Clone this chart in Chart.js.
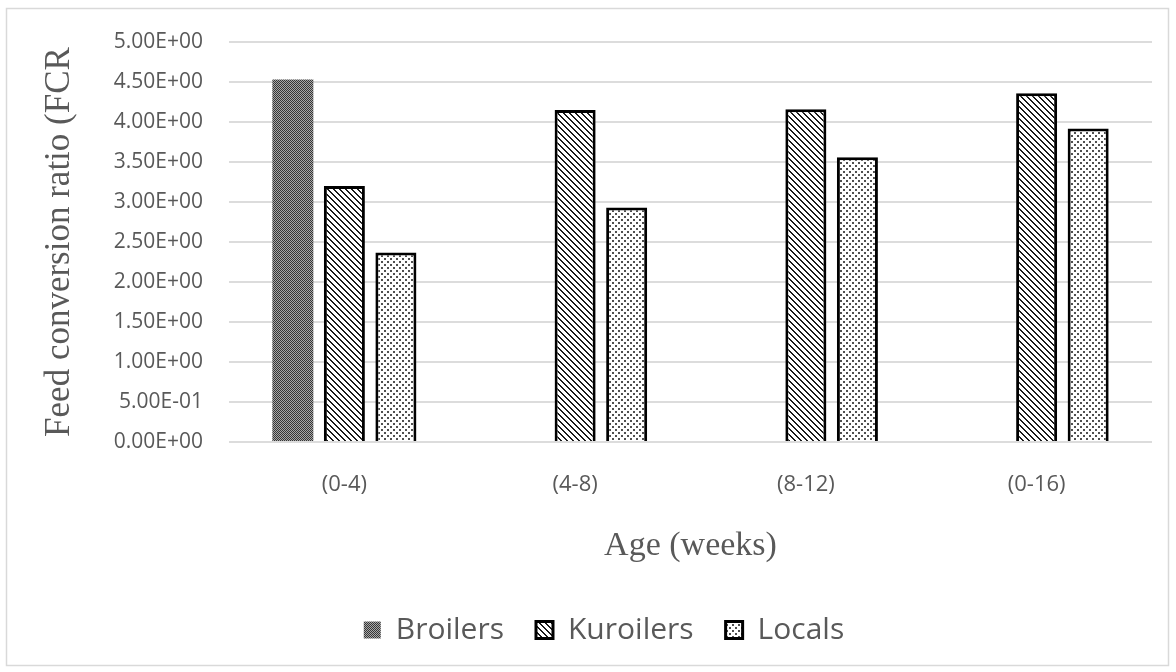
<!DOCTYPE html>
<html>
<head>
<meta charset="utf-8">
<title>Feed conversion ratio by age</title>
<script src="https://cdn.jsdelivr.net/npm/chart.js@4"></script>
<style>
  html, body { margin: 0; padding: 0; background: #ffffff; }
  #wrap { width: 1176px; height: 672px; }
</style>
</head>
<body>
<div id="wrap"><canvas id="fcr" width="1176" height="672"></canvas></div>
<script>
// Age groups (weeks) and feed conversion ratio per bird type
const ageGroups = ['(0-4)', '(4-8)', '(8-12)', '(0-16)'];
const broilers  = [4.53, null, null, null];
const kuroilers = [3.20, 4.15, 4.16, 4.36];
const locals    = [2.37, 2.93, 3.56, 3.92];
const seriesNames = ['Broilers', 'Kuroilers', 'Locals'];

const textGray = '#595959';

// Small tiled fills that mimic monochrome print hatching
function makePattern(size, paint) {
  const c = document.createElement('canvas');
  c.width = size; c.height = size;
  const g = c.getContext('2d');
  paint(g, size);
  return g.createPattern(c, 'repeat');
}
const ctx = document.getElementById('fcr').getContext('2d');

// dense dark checker
const checkerFill = makePattern(2, (g) => {
  g.fillStyle = '#a8a8a8'; g.fillRect(0, 0, 2, 2);
  g.fillStyle = '#363636'; g.fillRect(0, 0, 1, 1); g.fillRect(1, 1, 1, 1);
});
// downward diagonal stripes
const stripeFill = makePattern(6, (g, s) => {
  g.fillStyle = '#ffffff'; g.fillRect(0, 0, s, s);
  g.fillStyle = '#1a1a1a';
  for (let i = 0; i < s; i++) {
    g.fillRect(i, i, 1, 1);
    g.fillRect((i + 1) % s, i, 1, 1);
  }
});
// sparse staggered dots
const dotFill = makePattern(6, (g, s) => {
  g.fillStyle = '#ffffff'; g.fillRect(0, 0, s, s);
  g.fillStyle = '#505050';
  g.fillRect(0, 0, 2, 2);
  g.fillRect(3, 3, 2, 2);
});

// Scientific-notation labels with a two-digit exponent, e.g. 5.00E-01
function sciLabel(v) {
  if (Math.abs(v) < 1e-12) return '0.00E+00';
  const e = Math.floor(Math.log10(Math.abs(v)) + 1e-9);
  const m = v / Math.pow(10, e);
  return m.toFixed(2) + 'E' + (e < 0 ? '-' : '+') + String(Math.abs(e)).padStart(2, '0');
}

// Thin grey frame around the whole chart
const frame = {
  id: 'frame',
  beforeDraw(chart) {
    const c = chart.ctx;
    c.save();
    c.fillStyle = '#ffffff';
    c.fillRect(0, 0, chart.width, chart.height);
    c.strokeStyle = '#d9d9d9';
    c.lineWidth = 1.5;
    c.strokeRect(6.5, 8.5, chart.width - 14, chart.height - 15);
    c.restore();
  }
};

// Nudge the legend row a little to the right of the canvas centre
const legendNudge = {
  id: 'legendNudge',
  afterLayout(chart) {
    if (chart.legend) {
      chart.legend.left += 18;
      chart.legend.right += 18;
    }
  }
};

new Chart(ctx, {
  type: 'bar',
  data: {
    labels: ageGroups,
    datasets: [
      { label: seriesNames[0], data: broilers, backgroundColor: checkerFill, borderWidth: 0 },
      { label: seriesNames[1], data: kuroilers, backgroundColor: stripeFill, borderColor: '#000000', borderWidth: 3 },
      { label: seriesNames[2], data: locals, backgroundColor: dotFill, borderColor: '#000000', borderWidth: 3 }
    ]
  },
  options: {
    responsive: false,
    animation: false,
    devicePixelRatio: 1,
    layout: { padding: { left: 20, right: 24, top: 42, bottom: 17 } },
    datasets: { bar: { categoryPercentage: 0.67, barPercentage: 0.796 } },
    plugins: {
      tooltip: { enabled: false },
      legend: {
        position: 'bottom',
        labels: {
          color: textGray,
          font: { family: '"Open Sans", "Noto Sans", sans-serif', size: 30 },
          boxWidth: 17,
          boxHeight: 17,
          padding: 32
        }
      }
    },
    scales: {
      x: {
        grid: { display: false, drawTicks: false },
        border: { display: false },
        ticks: {
          color: textGray,
          font: { family: '"Open Sans", "Noto Sans", sans-serif', size: 22 },
          padding: 30,
          maxRotation: 0
        },
        title: {
          display: true,
          text: 'Age (weeks)',
          color: textGray,
          font: { family: '"Liberation Serif", "DejaVu Serif", serif', size: 34, weight: 'normal' },
          padding: { top: 0, bottom: 17 }
        },
        afterFit(scale) { scale.height = 141; }
      },
      y: {
        min: 0,
        max: 5,
        grid: { color: '#dcdcdc', lineWidth: 2, drawTicks: false },
        border: { display: false },
        ticks: {
          stepSize: 0.5,
          color: textGray,
          font: { family: '"Open Sans", "Noto Sans", sans-serif', size: 21 },
          padding: 26,
          callback: (v) => sciLabel(v)
        },
        title: {
          display: true,
          text: 'Feed conversion ratio (FCR',
          color: textGray,
          font: { family: '"Liberation Serif", "DejaVu Serif", serif', size: 35, weight: 'normal' },
          padding: { top: 19, bottom: 0 }
        },
        afterFit(scale) { scale.width = 209; }
      }
    }
  },
  plugins: [frame, legendNudge]
});
</script>
</body>
</html>
